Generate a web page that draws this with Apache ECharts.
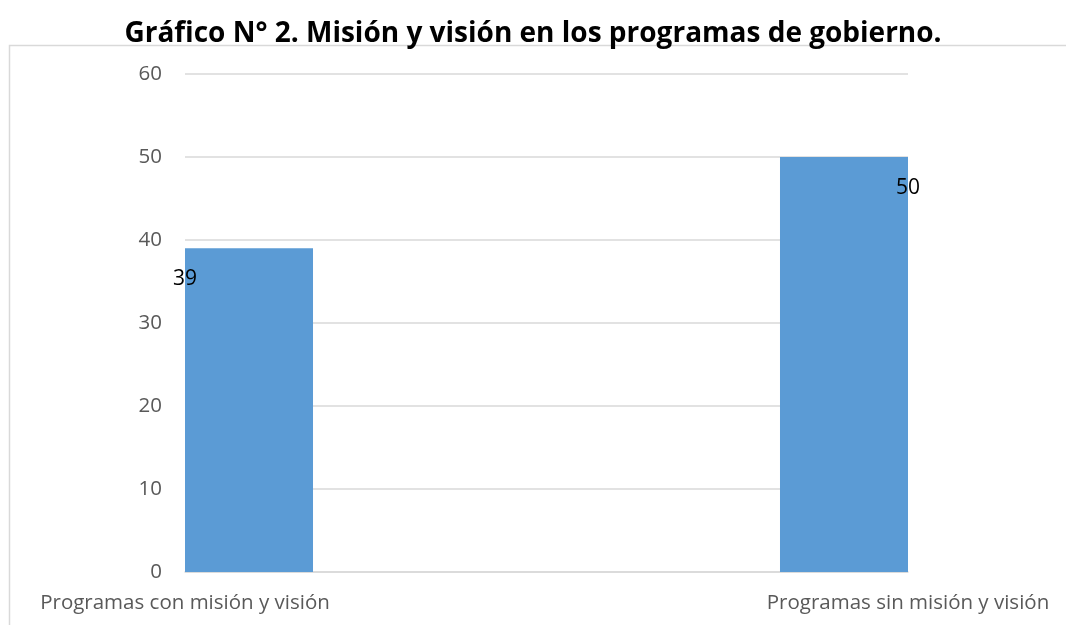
<!DOCTYPE html>
<html>
<head>
<meta charset="utf-8">
<script src="https://cdn.jsdelivr.net/npm/echarts@6/dist/echarts.min.js"></script>
<style>
html,body{margin:0;padding:0;background:#fff;}
#chart{width:1066px;height:625px;}
</style>
</head>
<body>
<div id="chart"></div>
<script>
const titleText = 'Gráfico N° 2. Misión y visión en los programas de gobierno.';
const categories = ['Programas con misión y visión', 'Programas sin misión y visión'];
const values = [39, 50];
const yTicks = { min: 0, max: 60, interval: 10 };

const chart = echarts.init(document.getElementById('chart'), null, { renderer: 'canvas' });
const font = '"Open Sans", sans-serif';
const barColor = '#5b9bd5';

const seriesA = values.map((v, i) => (i === 0 ? v : '-'));
const seriesB = values.map((v, i) => (i === 1 ? v : '-'));

chart.setOption({
  animation: false,
  backgroundColor: '#ffffff',
  title: {
    text: titleText,
    left: 'center',
    top: 15,
    textStyle: { fontFamily: font, fontWeight: 'bold', fontSize: 28, color: '#000000' }
  },
  graphic: [{
    type: 'rect',
    shape: { x: 9.5, y: 45.5, width: 1200, height: 700 },
    style: { fill: 'none', stroke: '#d9d9d9', lineWidth: 1.5 },
    silent: true, z: -1
  }],
  grid: { left: 185, right: 158, top: 74, bottom: 53 },
  xAxis: [{
    type: 'category',
    data: categories,
    boundaryGap: true,
    axisLine: { show: true, lineStyle: { color: '#d9d9d9', width: 1.5 } },
    axisTick: { show: false },
    axisLabel: { show: false }
  }, {
    type: 'category',
    data: categories,
    position: 'bottom',
    boundaryGap: false,
    axisLine: { show: false },
    axisTick: { show: false },
    axisLabel: { show: true, margin: 21, fontFamily: font, fontSize: 20.5, color: '#595959' }
  }],
  yAxis: {
    type: 'value',
    min: yTicks.min, max: yTicks.max, interval: yTicks.interval,
    axisLine: { show: false },
    axisTick: { show: false },
    splitLine: { lineStyle: { color: '#d9d9d9', width: 1.5 } },
    axisLabel: { margin: 23, fontFamily: font, fontSize: 20.5, color: '#595959' }
  },
  series: [{
    type: 'bar',
    xAxisIndex: 0,
    data: seriesA,
    itemStyle: { color: barColor },
    barCategoryGap: '0%',
    barGap: '82.4%',
    label: { show: true, position: [0, 31], align: 'center', verticalAlign: 'middle',
      fontFamily: font, fontSize: 21, color: '#000000' }
  }, {
    type: 'bar',
    xAxisIndex: 0,
    data: seriesB,
    itemStyle: { color: barColor },
    barCategoryGap: '0%',
    barGap: '82.4%',
    label: { show: true, position: ['100%', 31], align: 'center', verticalAlign: 'middle',
      fontFamily: font, fontSize: 21, color: '#000000' }
  }]
});
</script>
</body>
</html>
